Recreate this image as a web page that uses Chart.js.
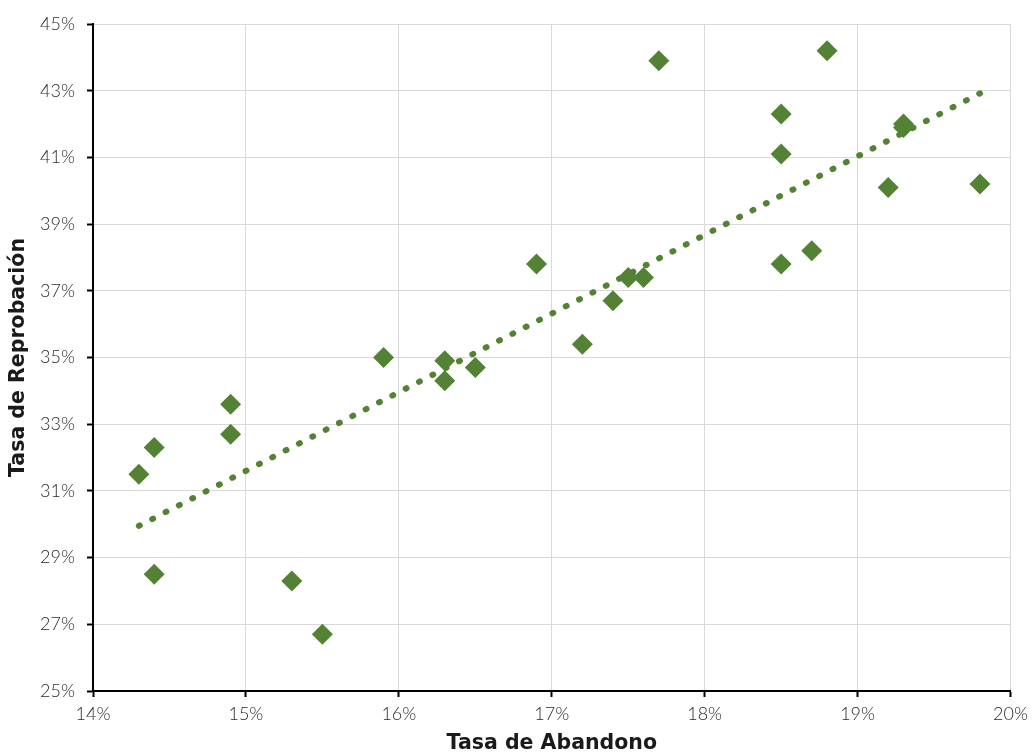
<!DOCTYPE html>
<html>
<head>
<meta charset="utf-8">
<script src="https://cdn.jsdelivr.net/npm/chart.js@4/dist/chart.umd.min.js"></script>
<style>
  html, body { margin: 0; padding: 0; background: #fff; }
  #wrap { width: 1034px; height: 753px; }
</style>
</head>
<body>
<div id="wrap"><canvas id="c" width="1034" height="753"></canvas></div>
<script>
// Tasa de Abandono (%) vs Tasa de Reprobación (%)
const abandono = [14.3, 14.4, 14.4, 14.9, 14.9, 15.3, 15.5, 15.9, 16.3, 16.3, 16.5,
                  16.9, 17.2, 17.4, 17.5, 17.6, 17.7, 18.5, 18.5, 18.5, 18.7, 18.8,
                  19.2, 19.3, 19.3, 19.8];
const reprobacion = [31.5, 32.3, 28.5, 33.6, 32.7, 28.3, 26.7, 35.0, 34.9, 34.3, 34.7,
                     37.8, 35.4, 36.7, 37.4, 37.4, 43.9, 42.3, 41.1, 37.8, 38.2, 44.2,
                     40.1, 42.0, 41.9, 40.2];

// linear trend line endpoints
const trendX = [14.3, 19.8];
const trendY = [29.95, 42.92];

const xTicks = { min: 14, max: 20, step: 1 };
const yTicks = { min: 25, max: 45, step: 2 };

const green = '#548235';
const tickFont = { family: 'Lato, "Open Sans", sans-serif', size: 18, weight: '300' };
const titleFont = { family: '"DejaVu Sans", sans-serif', size: 20.5, weight: 'bold', lineHeight: 1 };

const points = abandono.map((x, i) => ({ x, y: reprobacion[i] }));
const trend = trendX.map((x, i) => ({ x, y: trendY[i] }));

new Chart(document.getElementById('c'), {
  type: 'scatter',
  data: {
    datasets: [
      {
        label: 'Tendencia',
        type: 'line',
        data: trend,
        borderColor: green,
        borderWidth: 6,
        borderDash: [1, 14],
        borderCapStyle: 'round',
        pointRadius: 0,
        fill: false,
        order: 2
      },
      {
        label: 'Datos',
        data: points,
        pointStyle: 'rectRot',
        pointRadius: 10.5,
        pointHoverRadius: 10.5,
        backgroundColor: green,
        borderColor: green,
        borderWidth: 0,
        order: 1
      }
    ]
  },
  options: {
    responsive: false,
    animation: false,
    layout: { padding: { top: 24, right: 21, left: 0, bottom: 0 } },
    plugins: { legend: { display: false }, tooltip: { enabled: false } },
    scales: {
      x: {
        type: 'linear',
        min: xTicks.min, max: xTicks.max,
        ticks: {
          stepSize: xTicks.step, padding: 6, color: '#2a2a2a', font: tickFont,
          callback: v => v + '%'
        },
        grid: { color: '#d9d9d9', lineWidth: 1, tickColor: '#000', tickLength: 6, tickWidth: 2 },
        border: { color: '#000', width: 2 },
        title: { display: true, text: 'Tasa de Abandono', color: '#1a1a1a', font: titleFont, padding: { top: 0, bottom: -1 } },
        afterFit: s => { s.height = 62; }
      },
      y: {
        type: 'linear',
        min: yTicks.min, max: yTicks.max,
        ticks: {
          stepSize: yTicks.step, padding: 12, color: '#2a2a2a', font: tickFont,
          callback: v => v + '%'
        },
        grid: { color: '#d9d9d9', lineWidth: 1, tickColor: '#000', tickLength: 6, tickWidth: 2 },
        border: { color: '#000', width: 2 },
        title: { display: true, text: 'Tasa de Reprobación', color: '#1a1a1a', font: titleFont, padding: { top: 8, bottom: 0 } },
        afterFit: s => { s.width = 93; }
      }
    }
  }
});
</script>
</body>
</html>
